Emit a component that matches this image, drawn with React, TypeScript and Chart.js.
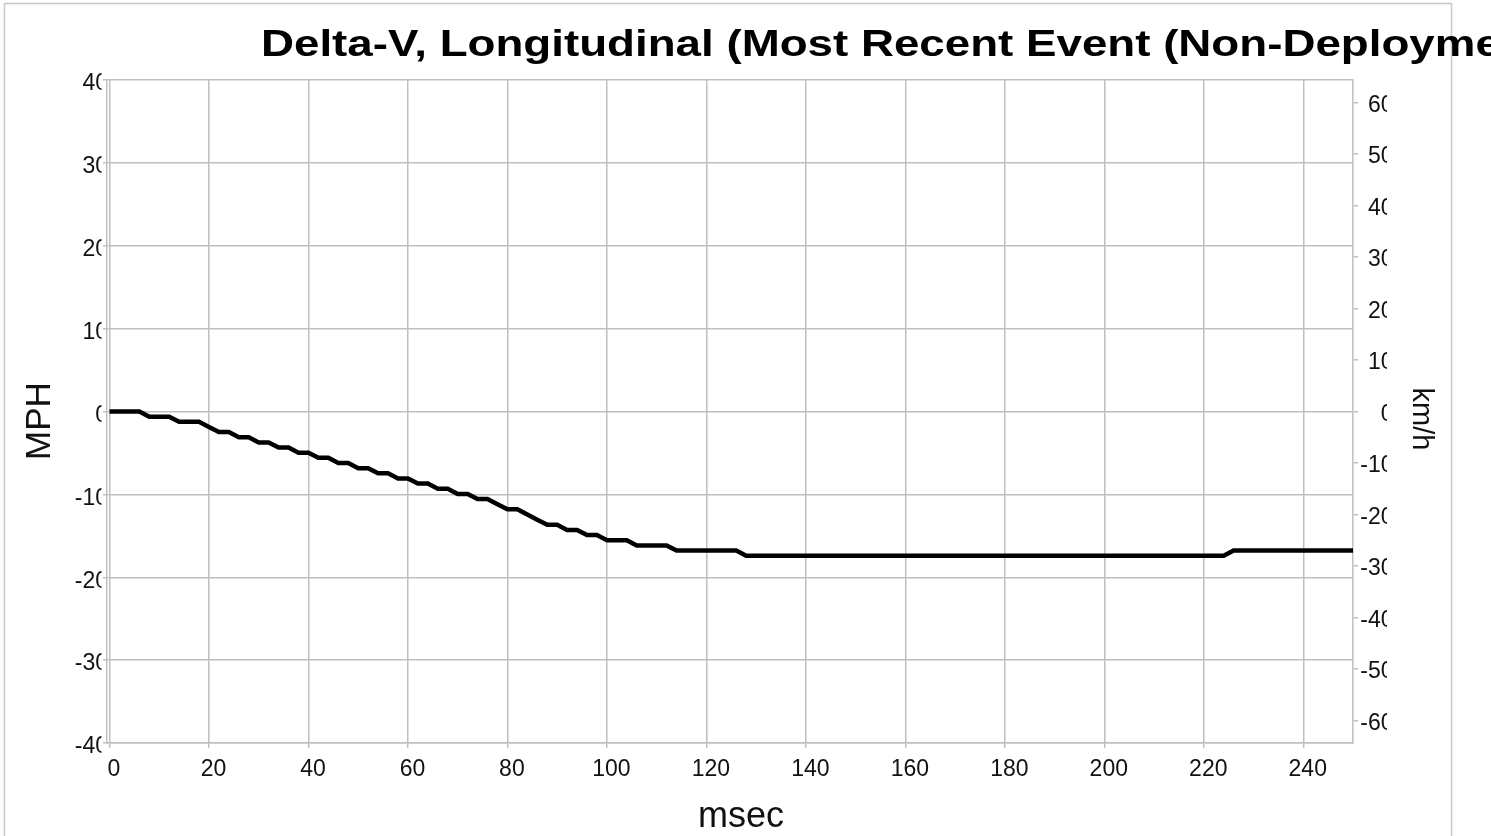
import React, { useEffect, useRef } from 'react';
import { Chart, registerables } from 'chart.js';

Chart.register(...registerables);

// ---- Text ----
const TITLE = 'Delta-V, Longitudinal (Most Recent Event (Non-Deployment))';
const X_TITLE = 'msec';
const Y_TITLE = 'MPH';
const Y2_TITLE = 'km/h';

// ---- Axes ----
const X_MIN = -0.5;
const X_MAX = 250;
const X_STEP = 20;
const MPH_MIN = -40;
const MPH_MAX = 40;
const MPH_STEP = 10;
const KMH_PER_MPH = 1.609344;
const KMH_STEP = 10;

// ---- Data: time (msec) and longitudinal delta-V (km/h) ----
const timeMs = [
  0, 2, 4, 6, 8, 10, 12, 14, 16, 18,
  20, 22, 24, 26, 28, 30, 32, 34, 36, 38,
  40, 42, 44, 46, 48, 50, 52, 54, 56, 58,
  60, 62, 64, 66, 68, 70, 72, 74, 76, 78,
  80, 82, 84, 86, 88, 90, 92, 94, 96, 98,
  100, 102, 104, 106, 108, 110, 112, 114, 116, 118,
  120, 122, 124, 126, 128, 130, 132, 134, 136, 138,
  140, 142, 144, 146, 148, 150, 152, 154, 156, 158,
  160, 162, 164, 166, 168, 170, 172, 174, 176, 178,
  180, 182, 184, 186, 188, 190, 192, 194, 196, 198,
  200, 202, 204, 206, 208, 210, 212, 214, 216, 218,
  220, 222, 224, 226, 228, 230, 232, 234, 236, 238,
  240, 242, 244, 246, 248, 250,
];

const deltaVKmh = [
  0, 0, 0, 0, -1, -1, -1, -2, -2, -2,
  -3, -4, -4, -5, -5, -6, -6, -7, -7, -8,
  -8, -9, -9, -10, -10, -11, -11, -12, -12, -13,
  -13, -14, -14, -15, -15, -16, -16, -17, -17, -18,
  -19, -19, -20, -21, -22, -22, -23, -23, -24, -24,
  -25, -25, -25, -26, -26, -26, -26, -27, -27, -27,
  -27, -27, -27, -27, -28, -28, -28, -28, -28, -28,
  -28, -28, -28, -28, -28, -28, -28, -28, -28, -28,
  -28, -28, -28, -28, -28, -28, -28, -28, -28, -28,
  -28, -28, -28, -28, -28, -28, -28, -28, -28, -28,
  -28, -28, -28, -28, -28, -28, -28, -28, -28, -28,
  -28, -28, -28, -27, -27, -27, -27, -27, -27, -27,
  -27, -27, -27, -27, -27, -27,
];

const FONT = "'Liberation Sans', Arial, Helvetica, sans-serif";
const GRID = '#bfbfbf';
const FRAME = '#c8c8c8';
const TEXT = '#111111';

const clipLabelsPlugin = {
  id: 'clipLabels',
  afterLayout(chart: any) {
    const patch = (scale: any, left: number, right: number) => {
      if (!scale || scale.__clipPatched) return;
      const orig = scale.drawLabels.bind(scale);
      scale.drawLabels = (area: any) => {
        const ctx = scale.ctx;
        ctx.save();
        ctx.beginPath();
        ctx.rect(left, 0, right - left, chart.height);
        ctx.clip();
        orig(area);
        ctx.restore();
      };
      scale.__clipPatched = true;
    };
    patch(chart.scales.y, 0, 101.5);
    patch(chart.scales.y2, 1353, 1387);
  },
};

const decorPlugin = {
  id: 'decor',
  beforeDraw(chart: any) {
    const ctx = chart.ctx;
    ctx.save();
    ctx.fillStyle = '#ffffff';
    ctx.fillRect(0, 0, chart.width, chart.height);
    ctx.strokeStyle = FRAME;
    ctx.lineWidth = 1.5;
    ctx.beginPath();
    ctx.moveTo(4.5, chart.height + 5);
    ctx.lineTo(4.5, 3.5);
    ctx.lineTo(1451.5, 3.5);
    ctx.lineTo(1451.5, chart.height + 5);
    ctx.stroke();
    ctx.restore();
  },
  afterDraw(chart: any) {
    const ctx = chart.ctx;
    ctx.save();
    ctx.fillStyle = '#000000';
    // title (stretched horizontally as in the source)
    ctx.save();
    ctx.translate(261, 56);
    ctx.scale(1.235, 1);
    ctx.font = `bold 37px ${FONT}`;
    ctx.textAlign = 'left';
    ctx.textBaseline = 'alphabetic';
    ctx.fillText(TITLE, 0, 0);
    ctx.restore();

    ctx.fillStyle = TEXT;
    // x title
    ctx.font = `36px ${FONT}`;
    ctx.textAlign = 'center';
    ctx.textBaseline = 'alphabetic';
    ctx.fillText(X_TITLE, 741, 827);

    // left y title
    ctx.save();
    ctx.translate(50, 421);
    ctx.rotate(-Math.PI / 2);
    ctx.font = `35px ${FONT}`;
    ctx.textAlign = 'center';
    ctx.textBaseline = 'alphabetic';
    ctx.fillText(Y_TITLE, 0, 0);
    ctx.restore();

    // right y title
    ctx.save();
    ctx.translate(1413, 419);
    ctx.rotate(Math.PI / 2);
    ctx.font = `29px ${FONT}`;
    ctx.textAlign = 'center';
    ctx.textBaseline = 'alphabetic';
    ctx.fillText(Y2_TITLE, 0, 0);
    ctx.restore();

    ctx.restore();
  },
};

export default function App() {
  const canvasRef = useRef<HTMLCanvasElement | null>(null);

  useEffect(() => {
    const canvas = canvasRef.current;
    if (!canvas) return;
    const points = timeMs.map((t, i) => ({ x: t, y: deltaVKmh[i] }));
    const tickFont = { family: FONT, size: 23 };

    const chart = new Chart(canvas, {
      type: 'line',
      data: {
        datasets: [
          {
            label: 'Delta-V, Longitudinal',
            data: points,
            yAxisID: 'y2',
            borderColor: '#000000',
            backgroundColor: '#000000',
            borderWidth: 4.5,
            pointRadius: 0,
            tension: 0,
            fill: false,
          },
        ],
      },
      options: {
        animation: false,
        responsive: false,
        devicePixelRatio: 1,
        layout: { padding: { top: 80, left: 0, right: 97.5, bottom: 0 } },
        plugins: {
          legend: { display: false },
          title: { display: false },
          tooltip: { enabled: false },
        },
        scales: {
          x: {
            type: 'linear',
            position: 'bottom',
            min: X_MIN,
            max: X_MAX,
            ticks: {
              stepSize: X_STEP,
              includeBounds: false,
              autoSkip: false,
              maxRotation: 0,
              font: tickFont,
              color: TEXT,
              padding: 8,
              labelOffset: 4.5,
            },
            grid: { color: GRID, lineWidth: 1.5, tickLength: 5 },
            border: { color: GRID, width: 1.5 },
            afterFit: (s: any) => {
              s.height = 93;
            },
          },
          y: {
            type: 'linear',
            position: 'left',
            min: MPH_MIN,
            max: MPH_MAX,
            ticks: {
              stepSize: MPH_STEP,
              includeBounds: false,
              font: tickFont,
              color: TEXT,
              padding: -5,
              labelOffset: 4,
            },
            grid: { color: GRID, lineWidth: 1.5, tickLength: 4 },
            border: { color: GRID, width: 1.5 },
            afterFit: (s: any) => {
              s.width = 107;
            },
          },
          y2: {
            type: 'linear',
            position: 'right',
            min: MPH_MIN * KMH_PER_MPH,
            max: MPH_MAX * KMH_PER_MPH,
            ticks: {
              stepSize: KMH_STEP,
              includeBounds: false,
              font: tickFont,
              color: TEXT,
              padding: 2,
              crossAlign: 'far',
              labelOffset: 3,
            },
            grid: {
              color: GRID,
              lineWidth: 1.5,
              tickLength: 5,
              drawOnChartArea: false,
            },
            border: { color: GRID, width: 1.5 },
            afterFit: (s: any) => {
              s.width = 40.5;
            },
          },
        },
      } as any,
      plugins: [clipLabelsPlugin, decorPlugin],
    });

    return () => {
      chart.destroy();
    };
  }, []);

  return (
    <div
      style={{
        position: 'absolute',
        left: 0,
        top: 0,
        width: 1491,
        height: 836,
        overflow: 'hidden',
        background: '#ffffff',
      }}
    >
      <canvas
        ref={canvasRef}
        width={1491}
        height={836}
        style={{ display: 'block', width: 1491, height: 836 }}
      />
    </div>
  );
}
